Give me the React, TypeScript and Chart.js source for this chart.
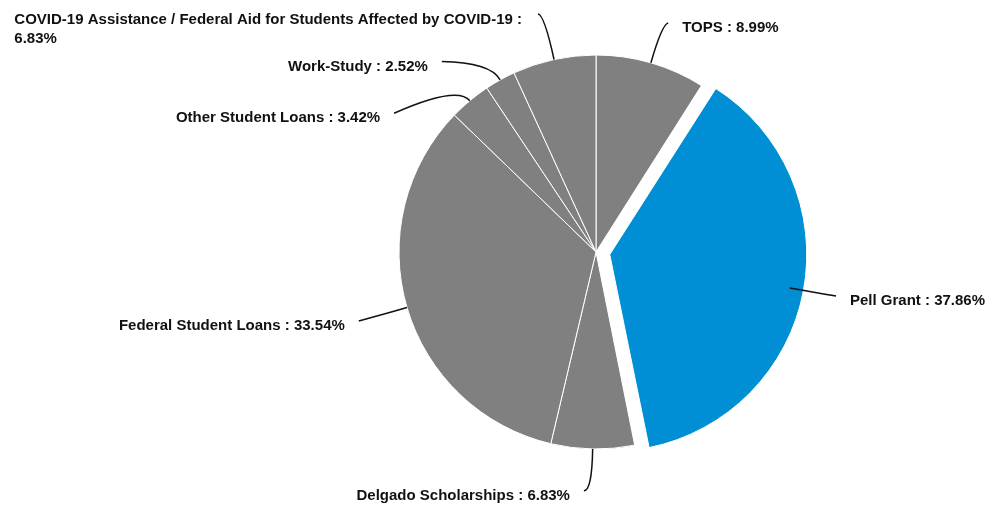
import React, { useEffect, useRef } from "react";
import { Chart, registerables } from "chart.js";

Chart.register(...registerables);

// ---- data ----
const categories = [
  "TOPS",
  "Pell Grant",
  "Delgado Scholarships",
  "Federal Student Loans",
  "Other Student Loans",
  "Work-Study",
  "COVID-19 Assistance / Federal Aid for Students Affected by COVID-19",
];
const percentages = [8.99, 37.86, 6.83, 33.54, 3.42, 2.52, 6.83];
const percentLabels = ["8.99%", "37.86%", "6.83%", "33.54%", "3.42%", "2.52%", "6.83%"];

// ---- styles / layout ----
const GRAY = "#808080";
const BLUE = "#008fd5";
const sliceColors = [GRAY, BLUE, GRAY, GRAY, GRAY, GRAY, GRAY];
const sliceOffsets = [0, 56, 0, 0, 0, 0, 0];
// label anchor angle (deg clockwise from 12 o'clock) and distance from centre
const labelAngles = [17.5, 100.4, 182.9, 253.8, 304.5, 321, 346.3];
const labelDistances = [240, 244, 239, 247, 245, 245, 245];
// control point distance beyond the pie edge for the leader curve
const controlExtras = [40, 20, 42, 20, 20, 20, 46];

const FONT = "bold 15px 'Liberation Sans', Arial, sans-serif";
const TEXT_GAP = 14;
const LINE_HEIGHT = 19;

// keep exploded slices at the same radius as the others
const radiusFixPlugin = {
  id: "radiusFix",
  afterDatasetUpdate(chart: any) {
    const meta = chart.getDatasetMeta(0);
    const base = meta.controller.outerRadius;
    meta.data.forEach((arc: any, i: number) => {
      const off = (sliceOffsets[i] || 0) / 4;
      if (!off) return;
      const circ = arc.circumference;
      const fix = 1 - Math.sin(Math.min(Math.PI, circ || 0));
      arc.outerRadius = base - off * fix;
    });
  },
};

const labelPlugin = {
  id: "pieLabels",
  afterDatasetsDraw(chart: any) {
    const ctx: CanvasRenderingContext2D = chart.ctx;
    const meta = chart.getDatasetMeta(0);
    const outerRadius = meta.controller.outerRadius;
    ctx.save();
    ctx.font = FONT;
    ctx.textBaseline = "middle";
    meta.data.forEach((arc: any, i: number) => {
      const { x, y, startAngle, endAngle } = arc.getProps(["x", "y", "startAngle", "endAngle"], true);
      const mid = (startAngle + endAngle) / 2;
      const sx = x + Math.cos(mid) * outerRadius;
      const sy = y + Math.sin(mid) * outerRadius;
      const cr = outerRadius + controlExtras[i];
      const cx = x + Math.cos(mid) * cr;
      const cy = y + Math.sin(mid) * cr;
      const la = ((labelAngles[i] - 90) * Math.PI) / 180;
      const ex = x + Math.cos(la) * labelDistances[i];
      const ey = y + Math.sin(la) * labelDistances[i];

      ctx.beginPath();
      ctx.moveTo(sx, sy);
      ctx.quadraticCurveTo(cx, cy, ex, ey);
      ctx.strokeStyle = "#111";
      ctx.lineWidth = 1.5;
      ctx.stroke();

      const text = categories[i] + " : " + percentLabels[i];
      const rightSide = labelAngles[i] < 180;
      ctx.fillStyle = "#111";
      if (rightSide) {
        ctx.textAlign = "left";
        ctx.fillText(text, ex + TEXT_GAP, ey + 5);
      } else {
        const maxW = ex - TEXT_GAP - 6;
        const words = text.split(" ");
        const lines: string[] = [];
        let cur = "";
        words.forEach((w) => {
          const t = cur ? cur + " " + w : w;
          if (ctx.measureText(t).width > maxW && cur) {
            lines.push(cur);
            cur = w;
          } else cur = t;
        });
        if (cur) lines.push(cur);
        if (lines.length === 1) {
          ctx.textAlign = "right";
          ctx.fillText(lines[0], ex - TEXT_GAP, ey + 5);
        } else {
          const blockW = Math.max(...lines.map((l) => ctx.measureText(l).width));
          const left = Math.max(8, ex - TEXT_GAP - 2 - blockW);
          ctx.textAlign = "left";
          lines.forEach((l, k) => ctx.fillText(l, left, ey + 6 + k * LINE_HEIGHT));
        }
      }
    });
    ctx.restore();
  },
};

export default function App() {
  const canvasRef = useRef<HTMLCanvasElement | null>(null);
  useEffect(() => {
    if (!canvasRef.current) return;
    const chart = new Chart(canvasRef.current, {
      type: "pie",
      data: {
        labels: categories,
        datasets: [
          {
            data: percentages,
            backgroundColor: sliceColors,
            borderColor: "#ffffff",
            borderWidth: 1,
            offset: sliceOffsets,
            radius: 197,
          } as any,
        ],
      },
      options: {
        animation: false,
        responsive: true,
        maintainAspectRatio: false,
        layout: { padding: { left: 410, right: 205, top: 20, bottom: 21 } },
        plugins: {
          legend: { display: false },
          tooltip: { enabled: false },
        },
      },
      plugins: [radiusFixPlugin, labelPlugin],
    });
    return () => chart.destroy();
  }, []);
  return (
    <div style={{ position: "absolute", left: 0, top: 0, width: 987, height: 505, background: "#fff" }}>
      <canvas ref={canvasRef} />
    </div>
  );
}
